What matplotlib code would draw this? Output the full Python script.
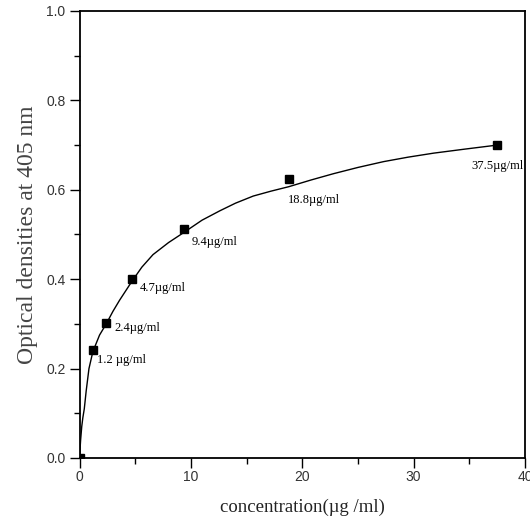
import matplotlib
matplotlib.use('Agg')
import matplotlib.pyplot as plt
from matplotlib.ticker import MultipleLocator, FormatStrFormatter

# measured standards (µg/ml) and their optical densities
conc = [0.0, 1.2, 2.4, 4.7, 9.4, 18.8, 37.5]
od = [0.0, 0.242, 0.303, 0.400, 0.512, 0.624, 0.700]
point_labels = ['', '1.2 µg/ml', '2.4µg/ml', '4.7µg/ml', '9.4µg/ml', '18.8µg/ml', '37.5µg/ml']

# fitted curve
curve_x = [0.0, 0.1, 0.2, 0.3, 0.43, 0.6, 0.85, 1.2, 1.8, 2.4, 3.0, 3.6, 4.7,
           5.6, 6.6, 8.0, 9.4, 11.0, 12.6, 14.0, 15.6, 17.2, 18.8, 20.8, 22.8,
           25.0, 27.3, 29.5, 31.8, 34.6, 37.5]
curve_y = [0.0, 0.04, 0.07, 0.09, 0.11, 0.15, 0.20, 0.238, 0.275, 0.300, 0.328,
           0.353, 0.395, 0.427, 0.455, 0.482, 0.505, 0.532, 0.553, 0.570, 0.586,
           0.597, 0.607, 0.622, 0.636, 0.650, 0.663, 0.673, 0.682, 0.691, 0.700]

serif = ['Liberation Serif', 'DejaVu Serif']
sans = ['Liberation Sans', 'DejaVu Sans']

fig = plt.figure(figsize=(5.30, 5.31), dpi=100)
ax = fig.add_axes([0.150, 0.1375, 0.8406, 0.8418])

ax.plot(curve_x, curve_y, color='black', linewidth=1.0)
ax.plot(conc, od, linestyle='none', marker='s', color='black', markersize=5.5)

# label offsets (points) from each marker
offsets = [(0, 0), (3, -7), (6, -4), (6, -6), (5, -9), (-1, -15), (0, -15)]
aligns = ['left', 'left', 'left', 'left', 'left', 'left', 'center']
for x, y, txt, off, ha in zip(conc, od, point_labels, offsets, aligns):
    if txt:
        ax.annotate(txt, (x, y), xytext=off, textcoords='offset points',
                    ha=ha, va='center', fontsize=9, family=serif)

ax.set_xlim(0, 40)
ax.set_ylim(0, 1.0)
ax.xaxis.set_major_locator(MultipleLocator(10))
ax.xaxis.set_minor_locator(MultipleLocator(5))
ax.yaxis.set_major_locator(MultipleLocator(0.2))
ax.yaxis.set_minor_locator(MultipleLocator(0.1))
ax.yaxis.set_major_formatter(FormatStrFormatter('%.1f'))

ax.tick_params(which='major', direction='out', length=7, width=1.0,
               labelsize=10, labelcolor='#333333')
ax.tick_params(which='minor', direction='out', length=4, width=1.0)
ax.tick_params(axis='x', pad=2)
ax.tick_params(axis='y', pad=3)
for lab in ax.get_xticklabels() + ax.get_yticklabels():
    lab.set_fontfamily(sans)

for sp in ax.spines.values():
    sp.set_linewidth(1.3)

ax.set_xlabel('concentration(µg /ml)', fontsize=13.5, family=serif,
              labelpad=10, color='#222222')
ax.set_ylabel('Optical densities at 405 nm', fontsize=17, family=serif,
              labelpad=6, color='#444444')

fig.savefig('out.png', dpi=100)
